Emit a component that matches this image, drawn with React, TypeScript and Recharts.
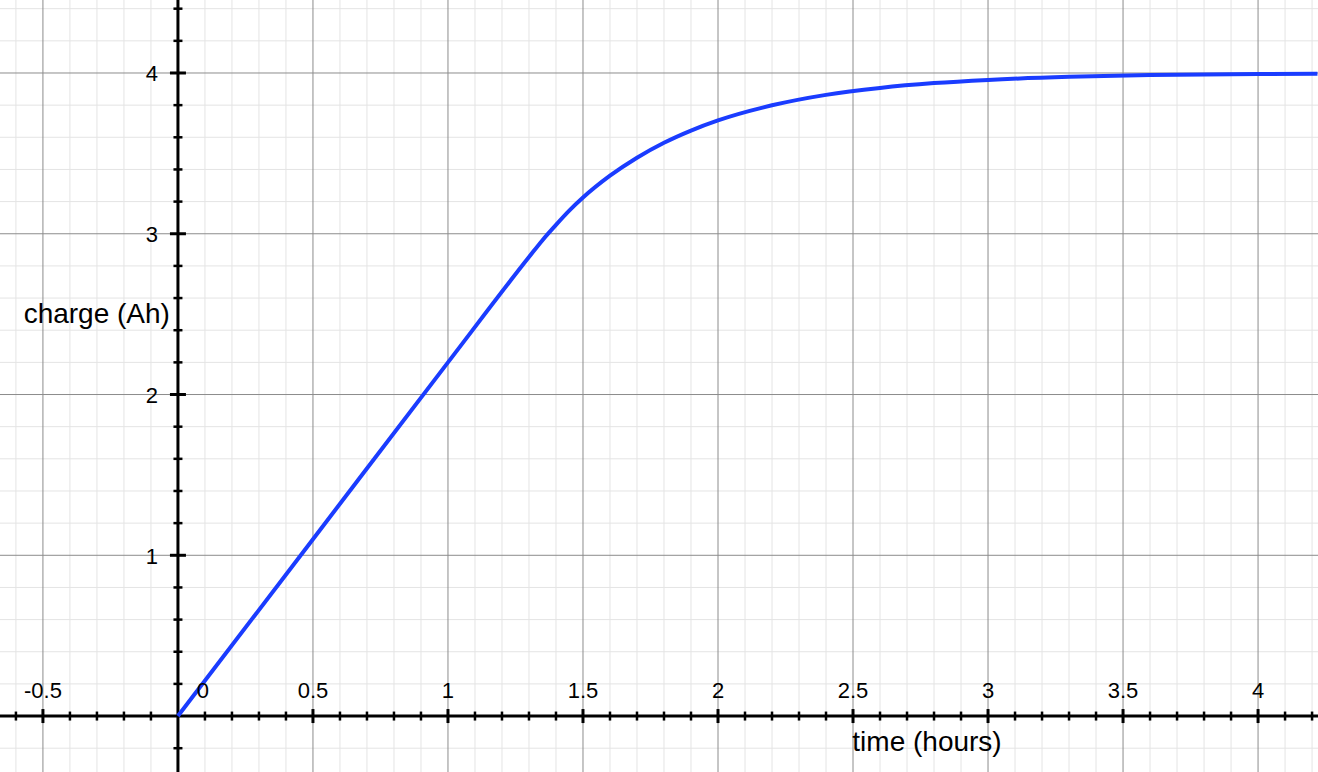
import React from "react";
import { LineChart, Line, XAxis, YAxis, ReferenceLine, ReferenceDot } from "recharts";

// time (hours)
const timeValues = [0, 0.5, 1, 1.3, 1.35, 1.4, 1.45, 1.5, 1.6, 1.7, 1.8, 1.9, 2.0, 2.2, 2.4, 2.6, 2.8, 3.0, 3.3, 3.6, 4.0, 4.22];
// charge (Ah)
const chargeValues = [0, 1.1, 2.2, 2.855, 2.96, 3.055, 3.145, 3.225, 3.361, 3.473, 3.566, 3.642, 3.705, 3.799, 3.864, 3.907, 3.937, 3.957, 3.976, 3.987, 3.994, 3.996];

const xMajorTicks = [-0.5, 0.5, 1, 1.5, 2, 2.5, 3, 3.5, 4];
const xTickLabels = ["-0.5", "0.5", "1", "1.5", "2", "2.5", "3", "3.5", "4"];
const yMajorTicks = [1, 2, 3, 4];
const yTickLabels = ["1", "2", "3", "4"];

const xMinorTicks: number[] = [];
for (let i = -6; i <= 42; i++) xMinorTicks.push(i / 10);
const yMinorTicks: number[] = [];
for (let i = -1; i <= 22; i++) yMinorTicks.push((i * 2) / 10);

const X_DOMAIN: [number, number] = [-0.659, 4.222];
const Y_DOMAIN: [number, number] = [-0.348, 4.454];

const data = timeValues.map((t, i) => ({ t, charge: chargeValues[i] }));

const FONT = "'Liberation Sans', Arial, Helvetica, sans-serif";
const TICK_FONT = 22;
const TITLE_FONT = 28;

const isMajorX = (v: number) => Math.abs(v * 2 - Math.round(v * 2)) < 1e-6;
const isMajorY = (v: number) => Math.abs(v - Math.round(v)) < 1e-6;

export default function App() {
  return (
    <div style={{ position: "fixed", left: 0, top: 0, width: 1318, height: 772, background: "#fff" }}>
      <LineChart width={1318} height={772} data={data} margin={{ top: 0, right: 0, bottom: 0, left: 0 }}>
        <XAxis dataKey="t" type="number" domain={X_DOMAIN} allowDataOverflow hide />
        <YAxis type="number" domain={Y_DOMAIN} allowDataOverflow hide />

        {xMinorTicks.filter((v) => !isMajorX(v)).map((v) => (
          <ReferenceLine key={"xm" + v} x={v} stroke="#e4e4e4" strokeWidth={1} ifOverflow="hidden" />
        ))}
        {yMinorTicks.filter((v) => !isMajorY(v)).map((v) => (
          <ReferenceLine key={"ym" + v} y={v} stroke="#e4e4e4" strokeWidth={1} ifOverflow="hidden" />
        ))}
        {xMajorTicks.map((v) => (
          <ReferenceLine key={"xM" + v} x={v} stroke="#8c8c8c" strokeWidth={1} ifOverflow="hidden" />
        ))}
        {yMajorTicks.map((v) => (
          <ReferenceLine key={"yM" + v} y={v} stroke="#8c8c8c" strokeWidth={1} ifOverflow="hidden" />
        ))}

        <ReferenceLine x={0} stroke="#000" strokeWidth={3} />
        <ReferenceLine y={0} stroke="#000" strokeWidth={3} />

        {xMinorTicks.filter((v) => Math.abs(v) > 1e-6).map((v) => (
          <ReferenceDot
            key={"xt" + v}
            x={v}
            y={0}
            shape={(p: any) => {
              const major = isMajorX(v);
              const h = major ? 7 : 4.5;
              return (
                <line x1={p.cx} x2={p.cx} y1={p.cy - h} y2={p.cy + h} stroke="#000" strokeWidth={major ? 3 : 2.5} />
              );
            }}
          />
        ))}
        {yMinorTicks.filter((v) => Math.abs(v) > 1e-6).map((v) => (
          <ReferenceDot
            key={"yt" + v}
            x={0}
            y={v}
            shape={(p: any) => {
              const major = isMajorY(v);
              const w = major ? 8 : 4.5;
              return (
                <line x1={p.cx - w} x2={p.cx + w} y1={p.cy} y2={p.cy} stroke="#000" strokeWidth={major ? 3 : 2.5} />
              );
            }}
          />
        ))}

        {xMajorTicks.map((v, i) => (
          <ReferenceDot
            key={"xl" + v}
            x={v}
            y={0}
            shape={(p: any) => (
              <text x={p.cx} y={p.cy - 26} textAnchor="middle" dominantBaseline="central" fontFamily={FONT} fontSize={TICK_FONT} fill="#000">
                {xTickLabels[i]}
              </text>
            )}
          />
        ))}
        <ReferenceDot
          x={0}
          y={0}
          shape={(p: any) => (
            <text x={p.cx + 25} y={p.cy - 26} textAnchor="middle" dominantBaseline="central" fontFamily={FONT} fontSize={TICK_FONT} fill="#000">
              0
            </text>
          )}
        />
        {yMajorTicks.map((v, i) => (
          <ReferenceDot
            key={"yl" + v}
            x={0}
            y={v}
            shape={(p: any) => (
              <text x={p.cx - 20} y={p.cy + 1} textAnchor="end" dominantBaseline="central" fontFamily={FONT} fontSize={TICK_FONT} fill="#000">
                {yTickLabels[i]}
              </text>
            )}
          />
        ))}

        <ReferenceDot
          x={0}
          y={2.507}
          shape={(p: any) => (
            <text x={p.cx - 8} y={p.cy} textAnchor="end" dominantBaseline="central" fontFamily={FONT} fontSize={TITLE_FONT} fill="#000">
              charge (Ah)
            </text>
          )}
        />
        <ReferenceDot
          x={2.774}
          y={0}
          shape={(p: any) => (
            <text x={p.cx} y={p.cy + 25} textAnchor="middle" dominantBaseline="central" fontFamily={FONT} fontSize={TITLE_FONT} fill="#000">
              time (hours)
            </text>
          )}
        />

        <Line
          type="monotone"
          dataKey="charge"
          stroke="#1a3cff"
          strokeWidth={4}
          dot={false}
          activeDot={false}
          isAnimationActive={false}
        />
      </LineChart>
    </div>
  );
}
